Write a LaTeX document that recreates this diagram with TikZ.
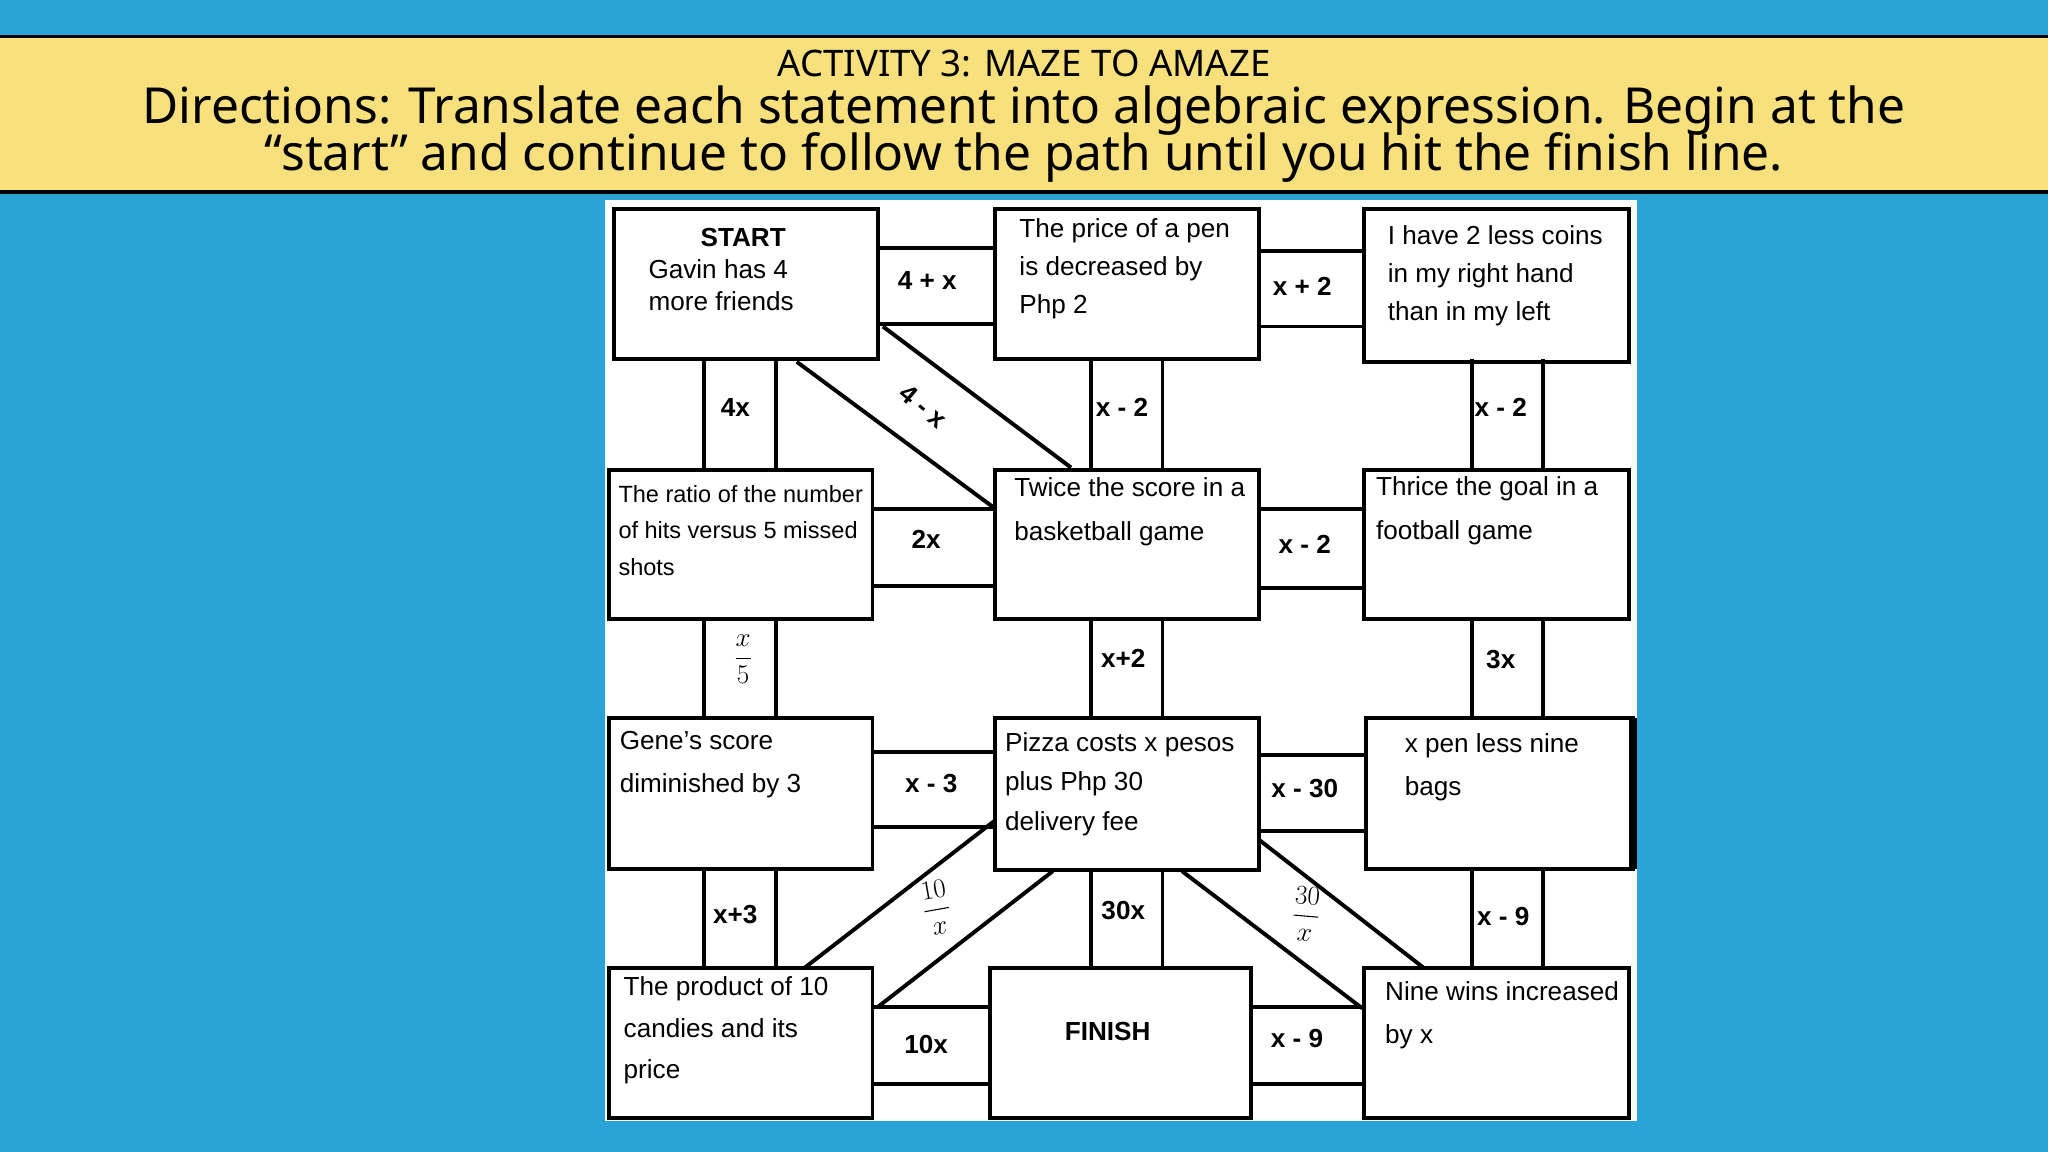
\documentclass[tikz,border=0pt]{standalone}
\usepackage{amsmath}
\usepackage{fontspec}
\setmainfont{Liberation Sans}
\newfontfamily\titlefont{Noto Sans}
\definecolor{bgblue}{HTML}{2AA4D7}
\definecolor{band}{HTML}{F8E07D}
\begin{document}
\begin{tikzpicture}[x=1pt,y=-1pt,
  box/.style={draw,line width=3pt},
  wall/.style={line width=3pt},
  lab/.style={font=\fontsize{20}{22}\selectfont\bfseries},
  txt/.style={font=\fontsize{20}{29}\selectfont,align=left,anchor=north west}]
\useasboundingbox (0,0) rectangle (1568,882);
\fill[bgblue] (0,0) rectangle (1568,882);
\fill[band] (0,28) rectangle (1568,147);
\draw[line width=2.5pt] (0,28)--(1568,28) (0,147)--(1568,147);
\node[font=\titlefont\fontsize{28}{30}\selectfont] (t1) at (784,49) {ACTIVITY 3: MAZE TO AMAZE};
\node[font=\titlefont\fontsize{38}{40}\selectfont,align=center] (t2) at (784,103) {Directions: Translate each statement into algebraic expression. Begin at the\\[-4pt]“start” and continue to follow the path until you hit the finish line.};
\fill[white] (463,153) rectangle (1253,858);
% corridors horizontal
\draw[wall] (672,190)--(762,190) (672,248)--(762,248);
\draw[wall] (964,192)--(1044,192) (964,250)--(1044,250);
\draw[wall] (668,390)--(762,390) (668,449)--(762,449);
\draw[wall] (964,390)--(1044,390) (964,450)--(1044,450);
\draw[wall] (668,576)--(762,576) (668,633)--(762,633);
\draw[wall] (964,578)--(1046,578) (964,636)--(1046,636);
\draw[wall] (668,771)--(758,771) (668,830)--(758,830);
\draw[wall] (958,771)--(1044,771) (958,830)--(1044,830);
% vertical
\foreach \a/\b in {275/360,474/550,665/741}{
  \draw[wall] (539,\a)--(539,\b) (594,\a)--(594,\b);
  \draw[wall] (835,\a)--(835,\b) (890,\a)--(890,\b);
  \draw[wall] (1127,\a)--(1127,\b) (1181,\a)--(1181,\b);}
% diagonals
\draw[wall] (676,250)--(820,358) (610,277)--(760,388);
\draw[wall] (616,741)--(762,628) (672,771)--(806,667);
\draw[wall] (905,667)--(1043,772) (964,643)--(1090,741);
% boxes
\draw[box] (470,160) rectangle (672,275);
\draw[box] (762,160) rectangle (964,275);
\draw[box] (1044,160) rectangle (1247,277);
\draw[box] (466,360) rectangle (668,474);
\draw[box] (762,360) rectangle (964,474);
\draw[box] (1044,360) rectangle (1247,474);
\draw[box] (466,550) rectangle (668,665);
\draw[box] (762,550) rectangle (964,666);
\draw[box] (1046,550) rectangle (1250,665);
\draw[line width=6pt] (1250,550)--(1250,665);
\draw[box] (466,741) rectangle (668,856);
\draw[box] (758,741) rectangle (958,856);
\draw[box] (1044,741) rectangle (1247,856);
% box texts
\node[lab] (s) at (569,182) {START};
\node[txt,font=\fontsize{20}{25}\selectfont] (s2) at (493,195) {Gavin has 4\\ more friends};
\node[txt] (p) at (777,164) {The price of a pen\\ is decreased by\\ Php 2};
\node[txt] (c) at (1059,169) {I have 2 less coins\\ in my right hand\\ than in my left};
\node[txt,font=\fontsize{18}{28}\selectfont] (r) at (470,368) {The ratio of the number\\ of hits versus 5 missed\\ shots};
\node[txt,font=\fontsize{20}{34}\selectfont] (tw) at (773,362) {Twice the score in a\\ basketball game};
\node[txt,font=\fontsize{20}{34}\selectfont] (th) at (1050,361) {Thrice the goal in a\\ football game};
\node[txt,font=\fontsize{20}{33}\selectfont] (g) at (471,556) {Gene's score\\ diminished by 3};
\node[txt,font=\fontsize{20}{30.5}\selectfont] (pz) at (766,557) {Pizza costs x pesos\\ plus Php 30\\ delivery fee};
\node[txt,font=\fontsize{20}{33}\selectfont] (xp) at (1072,558) {x pen  less nine\\ bags};
\node[txt,font=\fontsize{20}{32}\selectfont] (pr) at (474,744) {The product of 10\\ candies and its\\ price};
\node[lab] (f) at (848,790) {FINISH};
\node[txt,font=\fontsize{20}{33}\selectfont] (n) at (1057,748) {Nine wins increased\\ by x};
% corridor labels
\node[lab] (l1) at (710,215) {4 + x};
\node[lab] (l2) at (997,219) {x + 2};
\node[lab] (l3) at (709,413) {2x};
\node[lab] (l4) at (999,417) {x - 2};
\node[lab] (l5) at (713,600) {x - 3};
\node[lab] (l6) at (999,604) {x - 30};
\node[lab] (l7) at (709,800) {10x};
\node[lab] (l8) at (993,795) {x - 9};
\node[lab] (l9) at (563,312) {4x};
\node[lab] (l10) at (859,312) {x - 2};
\node[lab] (l11) at (1149,312) {x - 2};
\node[lab] (l12) at (569,505) {\(\dfrac{x}{5}\)};
\node[lab] (l13) at (860,504) {x+2};
\node[lab] (l14) at (1149,505) {3x};
\node[lab] (l15) at (563,700) {x+3};
\node[lab] (l16) at (860,697) {30x};
\node[lab] (l17) at (1151,702) {x - 9};
\node[lab,rotate=-40] (l18) at (707,311) {4 - x};
\node[lab,rotate=10] (l19) at (717,695) {\(\dfrac{10}{x}\)};
\node[lab,rotate=-5] (l20) at (1000,700) {\(\dfrac{30}{x}\)};
\end{tikzpicture}
\end{document}
